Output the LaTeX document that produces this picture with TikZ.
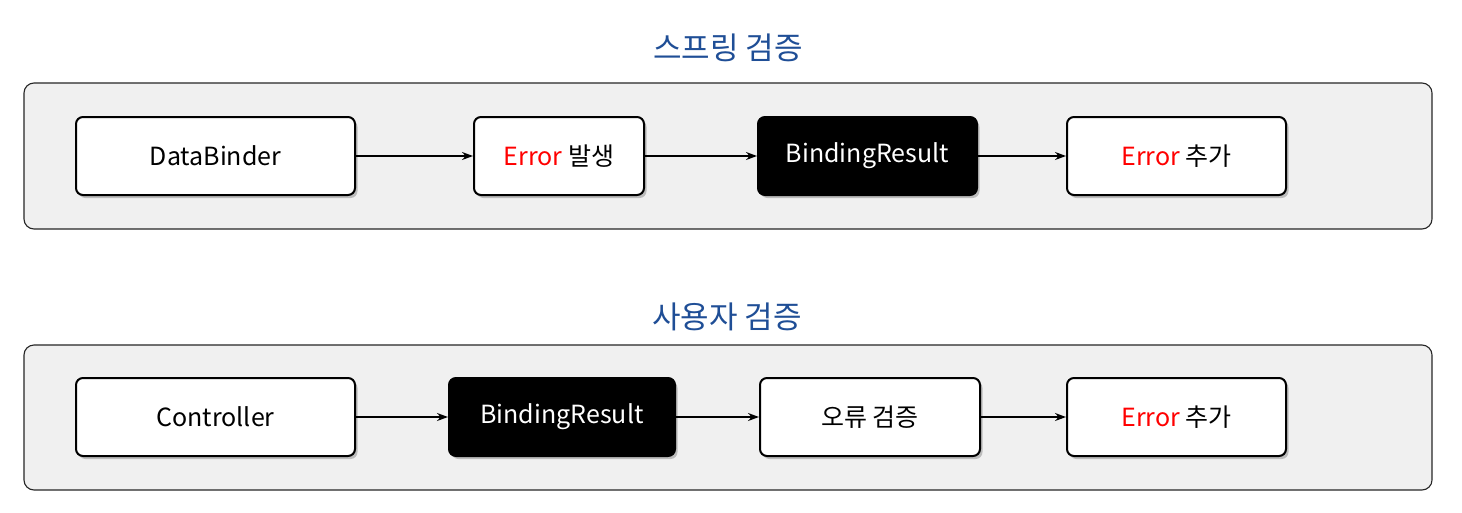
\documentclass[tikz,border=0pt]{standalone}
\usepackage{fontspec}
\setmainfont{Noto Sans CJK KR}
\usetikzlibrary{arrows.meta,shadows}
\definecolor{titleblue}{HTML}{1F4E96}
\definecolor{framegray}{HTML}{F0F0F0}
\definecolor{errred}{HTML}{FF0000}
\begin{document}
\begin{tikzpicture}[x=1pt,y=-1pt,
  frame/.style={draw=black!85,line width=1.1pt,fill=framegray,rounded corners=10pt},
  title/.style={text=titleblue,font=\fontsize{31}{35}\selectfont},
  box/.style={draw=black,line width=2pt,fill=white,rounded corners=7pt,minimum height=78pt,inner sep=0pt,
    font=\fontsize{25}{29}\selectfont,
    drop shadow={shadow xshift=2.5pt,shadow yshift=-3pt,fill=black!35,opacity=0.7}},
  darkbox/.style={box,fill=black,text=white},
  arr/.style={-{Stealth[length=11pt,width=8pt]},line width=1.6pt}]
\useasboundingbox (0,0) rectangle (1462,512);
\fill[white] (0,0) rectangle (1462,512);
% frames
\draw[frame] (24,83) rectangle (1432,229);
\draw[frame] (24,345) rectangle (1432,490);
% titles
\node[title] (t1) at (728,48) {스프링 검증};
\node[title] (t2) at (727,317) {사용자 검증};
% top row
\node[box,minimum width=279pt] (a1) at (215.5,156) {DataBinder};
\node[box,minimum width=170pt] (a2) at (559,156) {\textcolor{errred}{Error} 발생};
\node[darkbox,minimum width=219pt] (a3) at (867.5,156) {BindingResult};
\node[box,minimum width=219pt] (a4) at (1176.5,156) {\textcolor{errred}{Error} 추가};
\draw[arr] (a1) -- (a2);
\draw[arr] (a2) -- (a3);
\draw[arr] (a3) -- (a4);
% bottom row
\node[box,minimum width=279pt] (b1) at (215.5,417) {Controller};
\node[darkbox,minimum width=226pt] (b2) at (562,417) {BindingResult};
\node[box,minimum width=220pt] (b3) at (870,417) {오류 검증};
\node[box,minimum width=219pt] (b4) at (1176.5,417) {\textcolor{errred}{Error} 추가};
\draw[arr] (b1) -- (b2);
\draw[arr] (b2) -- (b3);
\draw[arr] (b3) -- (b4);
\end{tikzpicture}
\end{document}
